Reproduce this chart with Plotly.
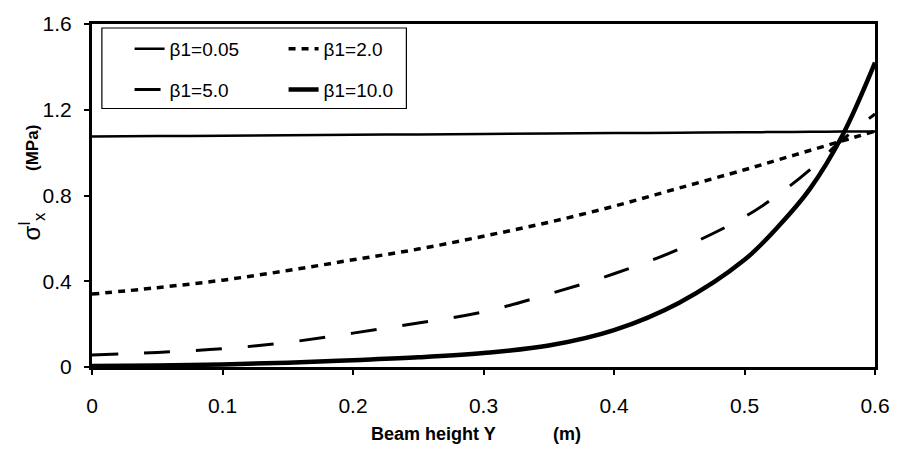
import plotly.graph_objects as go

# Data
y_height = [0, 0.05, 0.1, 0.15, 0.2, 0.25, 0.3, 0.35, 0.4, 0.45, 0.5, 0.525, 0.55, 0.575, 0.6]
beta_005 = [1.075, 1.077, 1.079, 1.081, 1.083, 1.085, 1.087, 1.089, 1.091, 1.093, 1.095, 1.096, 1.097, 1.098, 1.099]
beta_2 = [0.34, 0.37, 0.405, 0.45, 0.50, 0.55, 0.61, 0.675, 0.75, 0.835, 0.92, 0.965, 1.01, 1.055, 1.10]
beta_5 = [0.056, 0.068, 0.085, 0.115, 0.158, 0.205, 0.257, 0.34, 0.435, 0.55, 0.70, 0.80, 0.92, 1.06, 1.18]
beta_10 = [0.005, 0.007, 0.012, 0.02, 0.032, 0.045, 0.065, 0.10, 0.172, 0.30, 0.50, 0.65, 0.83, 1.08, 1.42]

names = ["β1=0.05", "β1=2.0", "β1=5.0", "β1=10.0"]
x_ticks = [0, 0.1, 0.2, 0.3, 0.4, 0.5, 0.6]
y_ticks = [0, 0.4, 0.8, 1.2, 1.6]

FONT = "Arial, 'Liberation Sans', sans-serif"

fig = go.Figure()
fig.add_trace(go.Scatter(x=y_height, y=beta_005, name=names[0], mode="lines",
                         line=dict(color="black", width=2.5, shape="spline"), legend="legend"))
fig.add_trace(go.Scatter(x=y_height, y=beta_2, name=names[1], mode="lines",
                         line=dict(color="black", width=3.5, dash="7px,6px", shape="spline"), legend="legend"))
fig.add_trace(go.Scatter(x=y_height, y=beta_5, name=names[2], mode="lines",
                         line=dict(color="black", width=3, dash="26px,26px", shape="spline"), legend="legend2"))
fig.add_trace(go.Scatter(x=y_height, y=beta_10, name=names[3], mode="lines",
                         line=dict(color="black", width=4.5, shape="spline"), legend="legend2"))

W, H = 902, 449
ml, mr, mt, mb = 92, 18, 22, 82
pw, ph = W - ml - mr, H - mt - mb

def px_x(p):
    return (p - ml) / pw

def px_y(p):
    return (H - mb - p) / ph

leg_common = dict(orientation="h", xanchor="left", yanchor="middle",
                  font=dict(family=FONT, size=19, color="black"),
                  bgcolor="rgba(0,0,0,0)", borderwidth=0,
                  entrywidth=109, entrywidthmode="pixels", traceorder="normal")

fig.update_layout(
    width=W, height=H,
    margin=dict(l=ml, r=mr, t=mt, b=mb),
    paper_bgcolor="white", plot_bgcolor="white",
    font=dict(family=FONT, color="black"),
    showlegend=True,
    legend=dict(x=px_x(130), y=px_y(47), **leg_common),
    legend2=dict(x=px_x(130), y=px_y(88), **leg_common),
    xaxis=dict(range=[0, 0.6], tickvals=x_ticks, showgrid=False, zeroline=False,
               showline=True, linecolor="black", linewidth=2.5, mirror=True,
               ticks="outside", ticklen=5, tickwidth=1.5, tickcolor="black",
               tickfont=dict(family=FONT, size=21, color="black"), ticklabelstandoff=13),
    yaxis=dict(range=[0, 1.6], tickvals=y_ticks, showgrid=False, zeroline=False,
               showline=True, linecolor="black", linewidth=3, mirror=True,
               ticks="outside", ticklen=5, tickwidth=1.5, tickcolor="black",
               tickfont=dict(family=FONT, size=21, color="black"), ticklabelstandoff=8),
    shapes=[dict(type="rect", xref="paper", yref="paper",
                 x0=px_x(102), x1=px_x(410), y0=px_y(107), y1=px_y(26),
                 line=dict(color="black", width=1.2), fillcolor="rgba(0,0,0,0)")],
    annotations=[
        dict(xref="paper", yref="paper", x=px_x(372), y=px_y(434), xanchor="left", yanchor="middle",
             showarrow=False, font=dict(family=FONT, size=18, color="black"),
             text="<b>Beam height Y</b>"),
        dict(xref="paper", yref="paper", x=px_x(556), y=px_y(434), xanchor="left", yanchor="middle",
             showarrow=False, font=dict(family=FONT, size=18, color="black"),
             text="<b>(m)</b>"),
        dict(xref="paper", yref="paper", x=px_x(31), y=px_y(226), xanchor="center", yanchor="middle",
             showarrow=False, textangle=-90, font=dict(family=FONT, size=24, color="black"),
             text="σ<sup>I</sup><sub>x</sub>"),
        dict(xref="paper", yref="paper", x=px_x(32), y=px_y(147), xanchor="center", yanchor="middle",
             showarrow=False, textangle=-90, font=dict(family=FONT, size=17, color="black"),
             text="<b>(MPa)</b>"),
    ],
)

fig.write_html("out.html")
